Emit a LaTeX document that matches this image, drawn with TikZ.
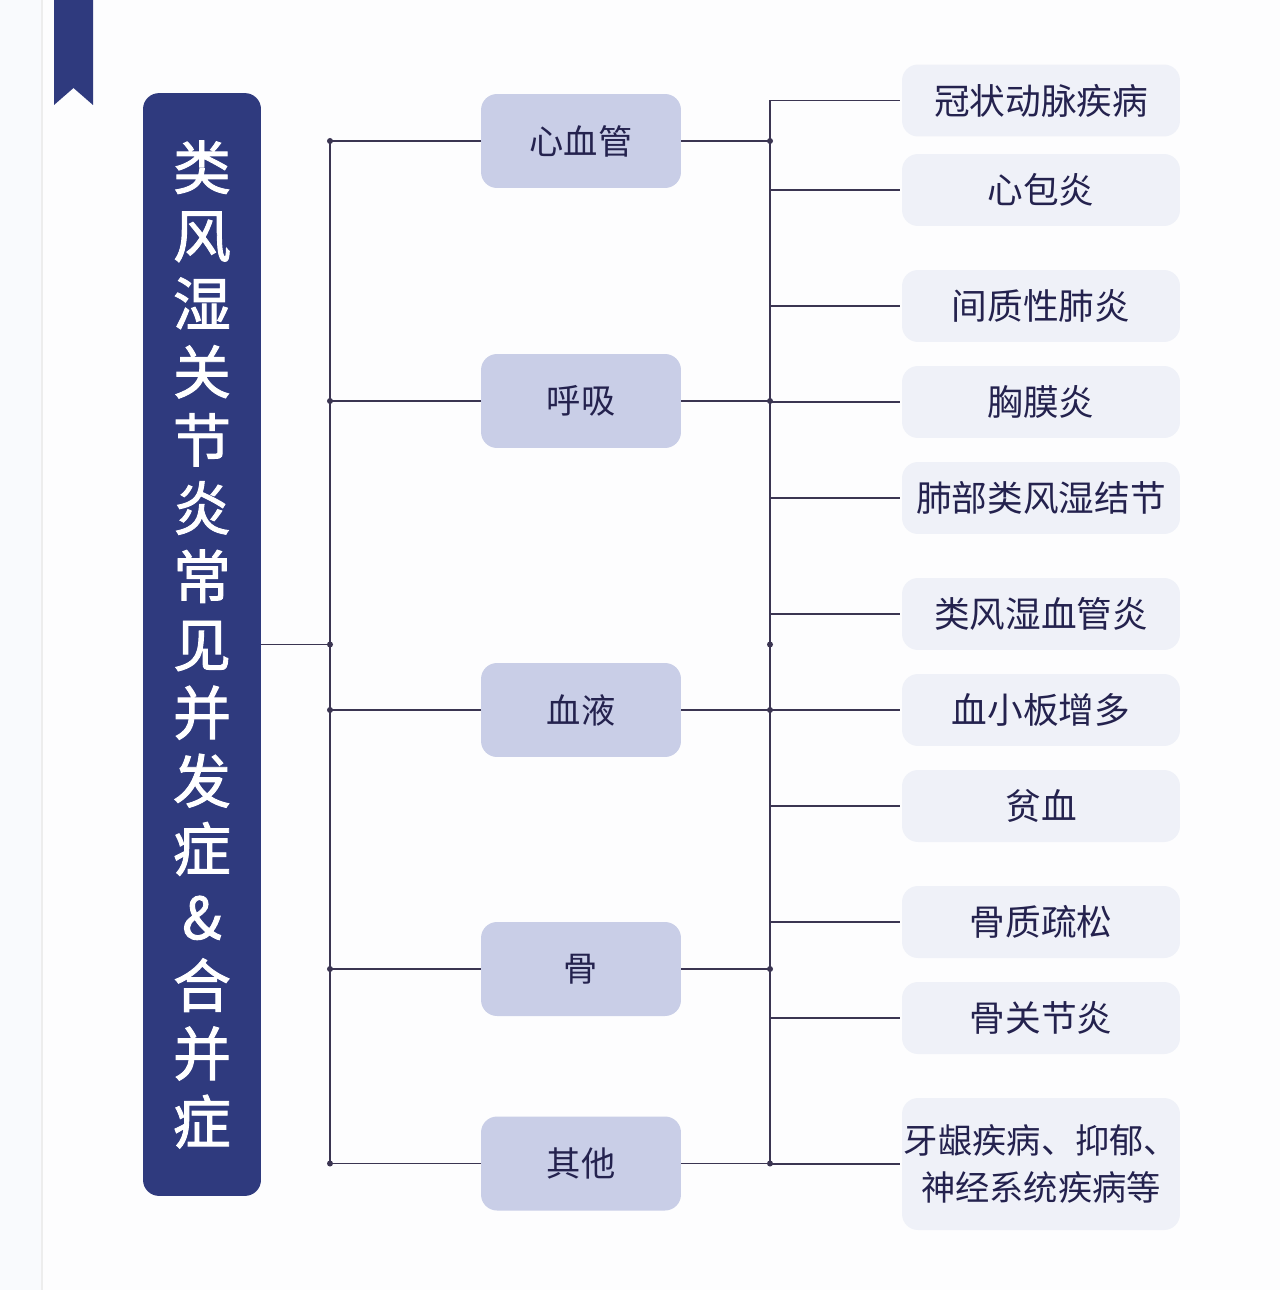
\documentclass[tikz,border=0pt]{standalone}
\usepackage{fontspec}
\newfontfamily\cjk{Noto Sans CJK SC}
\newfontfamily\cjkb[FakeBold=1.6]{Noto Sans CJK SC}
\definecolor{navy}{HTML}{2F3A7E}
\definecolor{midfill}{HTML}{C9CEE7}
\definecolor{leaffill}{HTML}{EFF1F8}
\definecolor{txt}{HTML}{24224E}
\definecolor{ln}{HTML}{3B3552}
\definecolor{bg}{HTML}{F9FAFD}
\tikzset{
  titlebox/.style={fill=navy, rounded corners=0.32cm, minimum width=2.36cm, minimum height=22.06cm,
    text=white, align=center, inner sep=0pt, font=\cjkb\fontsize{33}{38.8}\selectfont},
  midbox/.style={fill=midfill, rounded corners=0.32cm, minimum width=4cm, minimum height=1.88cm,
    text=txt, inner sep=0pt, font=\cjk\fontsize{19.5}{24}\selectfont},
  leafbox/.style={fill=leaffill, rounded corners=0.32cm, minimum width=5.56cm, minimum height=1.44cm,
    text=txt, inner sep=0pt, align=center, font=\cjk\fontsize{20.3}{26.6}\selectfont},
  conn/.style={draw=ln, line width=1pt},
  jdot/.style={fill=ln},
}
\begin{document}
\begin{tikzpicture}[x=0.02cm,y=-0.02cm]
\useasboundingbox (0,0) rectangle (1280,1290);
\fill[bg] (0,0) rectangle (1280,1290);
\fill[white!60!bg] (42,0) rectangle (1280,1290);
\draw[black!7, line width=0.6pt] (42,0) -- (42,1290);
% bookmark
\fill[navy] (54,0) -- (93,0) -- (93,105) -- (73.5,88) -- (54,105) -- cycle;
% title
\node[titlebox] (title) at (202,644.5) {类\\风\\湿\\关\\节\\炎\\常\\见\\并\\发\\症\\\&\\合\\并\\症};
% middle boxes
\node[midbox] (m1) at (581,141) {心血管};
\node[midbox] (m2) at (581,401) {呼吸};
\node[midbox] (m3) at (581,710) {血液};
\node[midbox] (m4) at (581,969) {骨};
\node[midbox] (m5) at (581,1163.5) {其他};
% leaves
\node[leafbox] (l1) at (1041,100.5) {冠状动脉疾病};
\node[leafbox] (l2) at (1041,190) {心包炎};
\node[leafbox] (l3) at (1041,306) {间质性肺炎};
\node[leafbox] (l4) at (1041,402) {胸膜炎};
\node[leafbox] (l5) at (1041,498) {肺部类风湿结节};
\node[leafbox] (l6) at (1041,614) {类风湿血管炎};
\node[leafbox] (l7) at (1041,710) {血小板增多};
\node[leafbox] (l8) at (1041,806) {贫血};
\node[leafbox] (l9) at (1041,922) {骨质疏松};
\node[leafbox] (l10) at (1041,1018) {骨关节炎};
\node[leafbox, minimum height=2.64cm, font=\cjk\fontsize{19.5}{26.6}\selectfont] (l11) at (1041,1164) {牙龈疾病、抑郁、\\神经系统疾病等};
% junction coordinates
\coordinate (jL) at (330,644.5);
\coordinate (jR) at (770,644.5);
% connectors left
\draw[conn] (title.east) -- (jL);
\draw[conn] (m1.west -| jL) -- (m5.west -| jL);
\foreach \m in {m1,m2,m3,m4,m5}{
  \draw[conn] (\m.west -| jL) -- (\m.west);
  \fill[jdot] (\m.west -| jL) circle (3);
  \draw[conn] (\m.east) -- (\m.east -| jR);
  \fill[jdot] (\m.east -| jR) circle (3);
}
\fill[jdot] (jL) circle (3);
\fill[jdot] (jR) circle (3);
% right spine
\draw[conn] (l1.west -| jR) -- (l11.west -| jR);
\foreach \l in {l1,l2,l3,l4,l5,l6,l7,l8,l9,l10,l11}{
  \draw[conn] (\l.west -| jR) -- ([xshift=-0.04cm]\l.west);
}
\end{tikzpicture}
\end{document}
